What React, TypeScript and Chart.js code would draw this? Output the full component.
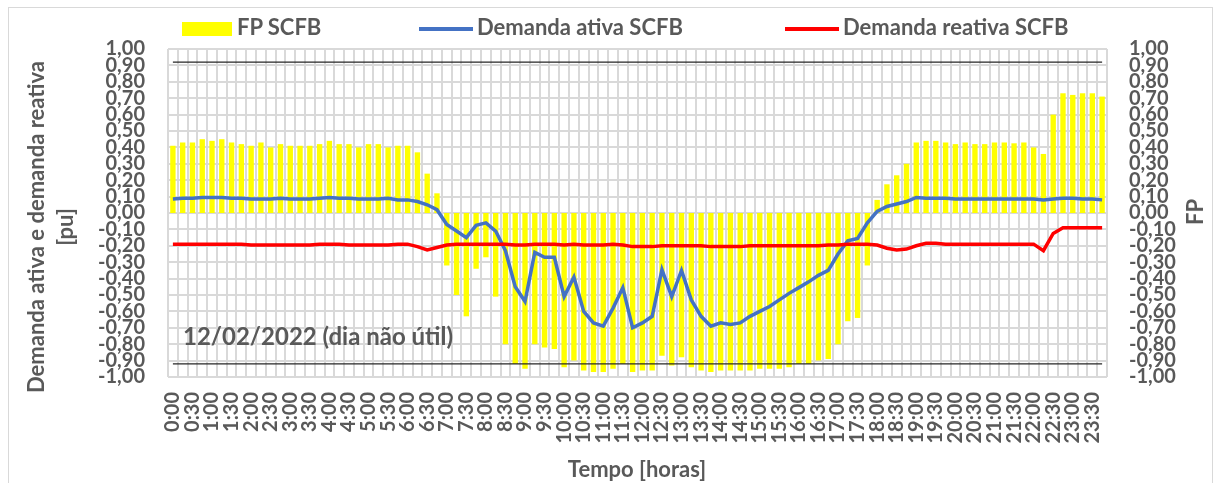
import React, { useEffect, useRef } from 'react';
import { Chart, registerables } from 'chart.js';

Chart.register(...registerables);

const TIME_LABELS: string[] = [
  '0:00', '0:15', '0:30', '0:45', '1:00', '1:15', '1:30', '1:45',
  '2:00', '2:15', '2:30', '2:45', '3:00', '3:15', '3:30', '3:45',
  '4:00', '4:15', '4:30', '4:45', '5:00', '5:15', '5:30', '5:45',
  '6:00', '6:15', '6:30', '6:45', '7:00', '7:15', '7:30', '7:45',
  '8:00', '8:15', '8:30', '8:45', '9:00', '9:15', '9:30', '9:45',
  '10:00', '10:15', '10:30', '10:45', '11:00', '11:15', '11:30', '11:45',
  '12:00', '12:15', '12:30', '12:45', '13:00', '13:15', '13:30', '13:45',
  '14:00', '14:15', '14:30', '14:45', '15:00', '15:15', '15:30', '15:45',
  '16:00', '16:15', '16:30', '16:45', '17:00', '17:15', '17:30', '17:45',
  '18:00', '18:15', '18:30', '18:45', '19:00', '19:15', '19:30', '19:45',
  '20:00', '20:15', '20:30', '20:45', '21:00', '21:15', '21:30', '21:45',
  '22:00', '22:15', '22:30', '22:45', '23:00', '23:15', '23:30', '23:45',
];

// FP SCFB (bars, right axis)
const FP_SCFB: number[] = [
  0.41, 0.43, 0.43, 0.45, 0.44, 0.45, 0.43, 0.42,
  0.41, 0.43, 0.40, 0.42, 0.41, 0.41, 0.41, 0.42,
  0.44, 0.42, 0.42, 0.40, 0.42, 0.42, 0.40, 0.41,
  0.41, 0.37, 0.24, 0.12, -0.32, -0.50, -0.63, -0.34,
  -0.27, -0.51, -0.80, -0.92, -0.95, -0.80, -0.82, -0.83,
  -0.94, -0.90, -0.96, -0.97, -0.97, -0.95, -0.92, -0.97,
  -0.96, -0.96, -0.87, -0.93, -0.88, -0.94, -0.96, -0.97,
  -0.96, -0.96, -0.96, -0.96, -0.95, -0.95, -0.95, -0.94,
  -0.92, -0.92, -0.90, -0.89, -0.80, -0.66, -0.64, -0.32,
  0.08, 0.175, 0.23, 0.30, 0.43, 0.44, 0.44, 0.43,
  0.42, 0.43, 0.42, 0.42, 0.43, 0.43, 0.425, 0.43,
  0.40, 0.36, 0.60, 0.73, 0.72, 0.73, 0.73, 0.71,
];

// Demanda ativa SCFB [pu]
const DEMANDA_ATIVA: number[] = [
  0.085, 0.09, 0.09, 0.095, 0.095, 0.095, 0.09, 0.09,
  0.085, 0.085, 0.085, 0.09, 0.085, 0.085, 0.085, 0.09,
  0.095, 0.09, 0.09, 0.085, 0.085, 0.085, 0.09, 0.08,
  0.08, 0.07, 0.05, 0.02, -0.07, -0.11, -0.15, -0.075,
  -0.06, -0.11, -0.23, -0.45, -0.54, -0.24, -0.27, -0.27,
  -0.51, -0.39, -0.60, -0.67, -0.69, -0.58, -0.455, -0.70,
  -0.67, -0.63, -0.345, -0.51, -0.35, -0.53, -0.63, -0.69,
  -0.67, -0.68, -0.67, -0.63, -0.60, -0.57, -0.53, -0.49,
  -0.455, -0.42, -0.38, -0.35, -0.25, -0.17, -0.155, -0.06,
  0.01, 0.04, 0.055, 0.07, 0.095, 0.09, 0.09, 0.09,
  0.085, 0.085, 0.085, 0.085, 0.085, 0.085, 0.085, 0.085,
  0.085, 0.08, 0.085, 0.09, 0.09, 0.085, 0.085, 0.08,
];

// Demanda reativa SCFB [pu]
const DEMANDA_REATIVA: number[] = [
  -0.19, -0.19, -0.19, -0.19, -0.19, -0.19, -0.19, -0.19,
  -0.195, -0.195, -0.195, -0.195, -0.195, -0.195, -0.195, -0.19,
  -0.19, -0.19, -0.195, -0.195, -0.195, -0.195, -0.195, -0.19,
  -0.19, -0.205, -0.225, -0.21, -0.195, -0.19, -0.19, -0.19,
  -0.19, -0.19, -0.19, -0.195, -0.195, -0.19, -0.19, -0.19,
  -0.195, -0.19, -0.195, -0.195, -0.195, -0.19, -0.195, -0.205,
  -0.205, -0.205, -0.2, -0.2, -0.2, -0.2, -0.2, -0.205,
  -0.205, -0.205, -0.205, -0.2, -0.2, -0.2, -0.2, -0.2,
  -0.2, -0.2, -0.2, -0.195, -0.195, -0.19, -0.19, -0.19,
  -0.195, -0.215, -0.225, -0.22, -0.2, -0.185, -0.185, -0.19,
  -0.19, -0.19, -0.19, -0.19, -0.19, -0.19, -0.19, -0.19,
  -0.19, -0.23, -0.125, -0.09, -0.09, -0.09, -0.09, -0.09,
];

// FP reference limits (black lines)
const FP_LIMIT_UPPER = 0.92;
const FP_LIMIT_LOWER = -0.92;

const FONT = 'Lato, "Open Sans", sans-serif';
const TEXT = '#595959';
const GRID = '#d9d9d9';

const fmt = (v: number) => {
  const n = Math.abs(v) < 1e-9 ? 0 : v;
  return n.toFixed(2).replace('.', ',');
};

export default function App() {
  const ref = useRef<HTMLCanvasElement>(null);

  useEffect(() => {
    if (!ref.current) return;
    const upper = TIME_LABELS.map(() => FP_LIMIT_UPPER);
    const lower = TIME_LABELS.map(() => FP_LIMIT_LOWER);
    const tickFont = { family: FONT, size: 20, weight: 'bold' as const };
    const chart = new Chart(ref.current, {
      type: 'bar',
      data: {
        labels: TIME_LABELS,
        datasets: [
          {
            type: 'line',
            label: 'Demanda reativa SCFB',
            data: DEMANDA_REATIVA,
            borderColor: '#FF0000',
            backgroundColor: '#FF0000',
            borderWidth: 3.5,
            pointRadius: 0,
            tension: 0,
            yAxisID: 'y',
            order: 0,
          },
          {
            type: 'line',
            label: 'Demanda ativa SCFB',
            data: DEMANDA_ATIVA,
            borderColor: '#4472C4',
            backgroundColor: '#4472C4',
            borderWidth: 3.5,
            pointRadius: 0,
            tension: 0,
            yAxisID: 'y',
            order: 1,
          },
          {
            type: 'line',
            label: 'Limite superior',
            data: upper,
            borderColor: '#262626',
            borderWidth: 1.3,
            pointRadius: 0,
            yAxisID: 'y1',
            order: 2,
          },
          {
            type: 'line',
            label: 'Limite inferior',
            data: lower,
            borderColor: '#262626',
            borderWidth: 1.3,
            pointRadius: 0,
            yAxisID: 'y1',
            order: 2,
          },
          {
            type: 'bar',
            label: 'FP SCFB',
            data: FP_SCFB,
            backgroundColor: '#FFFF00',
            borderWidth: 0,
            barPercentage: 0.55,
            categoryPercentage: 1,
            yAxisID: 'y1',
            order: 3,
          },
        ],
      },
      options: {
        animation: false,
        responsive: false,
        layout: { padding: { left: 8, top: 49, right: 0, bottom: 0 } },
        plugins: { legend: { display: false }, tooltip: { enabled: false } },
        scales: {
          x: {
            grid: { color: GRID, lineWidth: 2, drawTicks: false, offset: true },
            border: { display: false },
            ticks: {
              autoSkip: false,
              minRotation: 90,
              maxRotation: 90,
              padding: 15,
              color: TEXT,
              font: tickFont,
              callback: (_v: any, i: number) => (i % 2 === 0 ? TIME_LABELS[i] : ''),
            },
            afterFit: (s: any) => {
              s.height = 106;
            },
          },
          y: {
            position: 'left',
            min: -1,
            max: 1,
            grid: { color: GRID, lineWidth: 2, drawTicks: false },
            border: { display: false },
            ticks: {
              stepSize: 0.1,
              maxTicksLimit: 30,
              autoSkip: false,
              padding: 23,
              color: TEXT,
              font: tickFont,
              callback: (v: any) => fmt(Number(v)),
            },
            afterFit: (s: any) => {
              s.width = 160;
            },
          },
          y1: {
            position: 'right',
            min: -1,
            max: 1,
            grid: { display: false, drawTicks: false },
            border: { display: false },
            ticks: {
              stepSize: 0.1,
              maxTicksLimit: 30,
              autoSkip: false,
              padding: 22,
              color: TEXT,
              font: tickFont,
              callback: (v: any) => fmt(Number(v)),
            },
            afterFit: (s: any) => {
              s.width = 107;
            },
          },
        },
      },
    });
    return () => chart.destroy();
  }, []);

  const txt: React.CSSProperties = {
    position: 'absolute',
    fontFamily: FONT,
    fontWeight: 'bold',
    color: TEXT,
    whiteSpace: 'nowrap',
  };

  return (
    <div style={{ position: 'absolute', left: 0, top: 0, width: 1214, height: 483, background: '#fff', overflow: 'hidden' }}>
      <div
        style={{
          position: 'absolute',
          left: 8,
          top: 7,
          width: 1205,
          height: 480,
          border: '1px solid #d9d9d9',
          boxSizing: 'border-box',
        }}
      />
      <canvas ref={ref} width={1214} height={483} style={{ position: 'absolute', left: 0, top: 0, width: 1214, height: 483 }} />

      {/* Legend */}
      <div style={{ position: 'absolute', left: 182, top: 22, width: 50, height: 14, background: '#FFFF00' }} />
      <div style={{ ...txt, left: 237, top: 15.5, fontSize: 22, lineHeight: '22px' }}>FP SCFB</div>
      <div style={{ position: 'absolute', left: 419, top: 27, width: 54, height: 4, background: '#4472C4' }} />
      <div style={{ ...txt, left: 477, top: 15.5, fontSize: 22, lineHeight: '22px' }}>Demanda ativa SCFB</div>
      <div style={{ position: 'absolute', left: 785, top: 27, width: 54, height: 4, background: '#FF0000' }} />
      <div style={{ ...txt, left: 843, top: 15.5, fontSize: 22, lineHeight: '22px' }}>Demanda reativa SCFB</div>

      {/* Annotation */}
      <div style={{ ...txt, left: 183, top: 324, fontSize: 24, lineHeight: '24px' }}>12/02/2022 (dia não útil)</div>

      {/* Axis titles */}
      <div
        style={{
          ...txt,
          left: 50,
          top: 227,
          fontSize: 22,
          lineHeight: '29px',
          textAlign: 'center',
          transform: 'translate(-50%, -50%) rotate(-90deg)',
        }}
      >
        Demanda ativa e demanda reativa
        <br />
        [pu]
      </div>
      <div
        style={{
          ...txt,
          left: 1195,
          top: 212,
          fontSize: 22,
          lineHeight: '22px',
          transform: 'translate(-50%, -50%) rotate(-90deg)',
        }}
      >
        FP
      </div>
      <div
        style={{
          ...txt,
          left: 637,
          top: 469,
          fontSize: 22,
          lineHeight: '22px',
          transform: 'translate(-50%, -50%)',
        }}
      >
        Tempo [horas]
      </div>
    </div>
  );
}
